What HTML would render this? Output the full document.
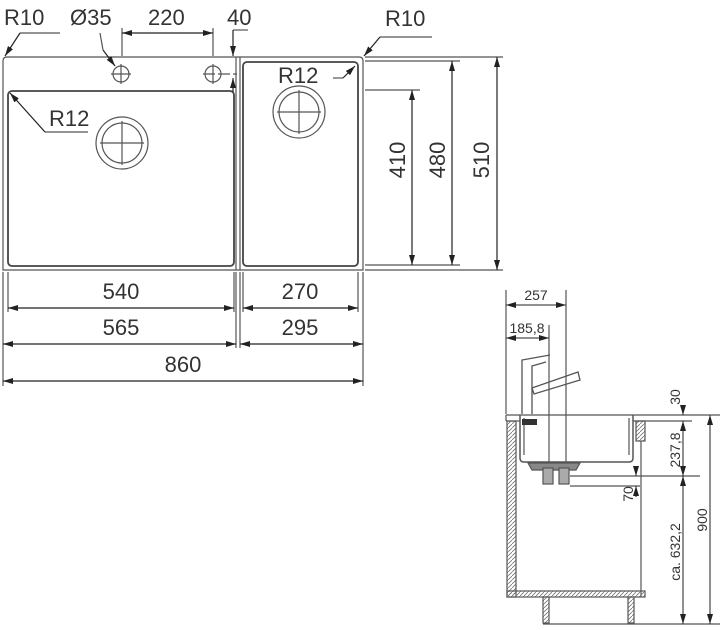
<!DOCTYPE html>
<html><head><meta charset="utf-8"><style>
html,body{margin:0;padding:0;background:#fff;}
svg{display:block}
text{font-family:"Liberation Sans",Arial,sans-serif;fill:#333}
</style></head><body>
<svg width="720" height="630" viewBox="0 0 720 630" xmlns="http://www.w3.org/2000/svg">
<defs>
<marker id="a" viewBox="0 0 10 6" refX="10" refY="3" markerWidth="10" markerHeight="6" orient="auto-start-reverse" markerUnits="userSpaceOnUse"><path d="M0,0L10,3L0,6z" fill="#222"/></marker>
<pattern id="h" width="4" height="4" patternUnits="userSpaceOnUse"><path d="M0,4L4,0" stroke="#777" stroke-width="0.8"/></pattern>
</defs>
<g fill="none" stroke="#555" stroke-width="1.2">
<path d="M3,61 Q3,57 7,57 H359 Q363,57 363,61 V270 H3 Z"/>
<line x1="236" y1="57" x2="236" y2="270"/>
<line x1="240" y1="57" x2="240" y2="270"/>
<rect x="8" y="91" width="226" height="175" rx="4" stroke="#444" stroke-width="1.8"/>
<rect x="243" y="62" width="115" height="204" rx="4" stroke="#444" stroke-width="1.8"/>
<circle cx="121" cy="74" r="8"/><line x1="111" y1="74" x2="131" y2="74"/><line x1="121" y1="64" x2="121" y2="84"/>
<circle cx="213" cy="74" r="8"/><line x1="203" y1="74" x2="237" y2="74" stroke-dasharray="12,3"/><line x1="213" y1="64" x2="213" y2="84"/>
<circle cx="122" cy="143" r="26"/><circle cx="122" cy="143" r="20"/>
<line x1="100" y1="143" x2="144" y2="143"/><line x1="122" y1="121" x2="122" y2="165"/>
<circle cx="299" cy="112" r="26"/><circle cx="299" cy="112" r="20"/>
<line x1="277" y1="112" x2="321" y2="112"/><line x1="299" y1="90" x2="299" y2="134"/>
<line x1="60" y1="33" x2="20" y2="33"/><line x1="20" y1="33" x2="5" y2="56" marker-end="url(#a)" stroke="#222"/>
<line x1="100" y1="33" x2="103" y2="50"/><line x1="103" y1="50" x2="115" y2="66" marker-end="url(#a)" stroke="#222"/>
<line x1="88" y1="132" x2="45" y2="132"/><line x1="45" y1="132" x2="10" y2="93" marker-end="url(#a)" stroke="#222"/>
<line x1="333" y1="78" x2="343" y2="78"/><line x1="343" y1="78" x2="355" y2="66" marker-end="url(#a)" stroke="#222"/>
<line x1="432" y1="37" x2="380" y2="37"/><line x1="380" y1="37" x2="364" y2="56" marker-end="url(#a)" stroke="#222"/>
<line x1="122" y1="28" x2="122" y2="56"/><line x1="213" y1="28" x2="213" y2="56"/>
<line x1="122" y1="33" x2="213" y2="33" stroke="#222" marker-start="url(#a)" marker-end="url(#a)"/>
<line x1="233" y1="30" x2="248" y2="30"/><line x1="233" y1="30" x2="233" y2="56" stroke="#222" marker-end="url(#a)"/>
<line x1="233" y1="92" x2="233" y2="78" stroke="#222" marker-end="url(#a)"/>
<line x1="3" y1="272" x2="3" y2="386"/><line x1="8" y1="272" x2="8" y2="312"/>
<line x1="234" y1="272" x2="234" y2="312"/><line x1="236" y1="272" x2="236" y2="348"/>
<line x1="240" y1="272" x2="240" y2="348"/><line x1="243" y1="272" x2="243" y2="312"/>
<line x1="358" y1="272" x2="358" y2="312"/><line x1="363" y1="272" x2="363" y2="386"/>
<g stroke="#222">
<line x1="8" y1="308" x2="234" y2="308" marker-start="url(#a)" marker-end="url(#a)"/>
<line x1="243" y1="308" x2="358" y2="308" marker-start="url(#a)" marker-end="url(#a)"/>
<line x1="3" y1="344" x2="236" y2="344" marker-start="url(#a)" marker-end="url(#a)"/>
<line x1="240" y1="344" x2="363" y2="344" marker-start="url(#a)" marker-end="url(#a)"/>
<line x1="3" y1="381" x2="363" y2="381" marker-start="url(#a)" marker-end="url(#a)"/>
</g>
<line x1="365" y1="57" x2="503" y2="57"/><line x1="365" y1="61" x2="460" y2="61"/><line x1="365" y1="90" x2="420" y2="90"/>
<line x1="365" y1="265" x2="460" y2="265"/><line x1="365" y1="270" x2="503" y2="270"/>
<g stroke="#222">
<line x1="412" y1="90" x2="412" y2="265" marker-start="url(#a)" marker-end="url(#a)"/>
<line x1="452" y1="61" x2="452" y2="265" marker-start="url(#a)" marker-end="url(#a)"/>
<line x1="497" y1="57" x2="497" y2="270" marker-start="url(#a)" marker-end="url(#a)"/>
</g>
<line x1="506" y1="290" x2="506" y2="414"/><line x1="549" y1="325" x2="549" y2="470"/><line x1="566" y1="290" x2="566" y2="470"/>
<g stroke="#222" stroke-width="1">
<line x1="506" y1="305" x2="566" y2="305" marker-start="url(#a)" marker-end="url(#a)"/>
<line x1="506" y1="338" x2="549" y2="338" marker-start="url(#a)" marker-end="url(#a)"/>
</g>
<path d="M522,414 V360 L550,355 M532,414 V366 L546,362" stroke-width="1.3"/>
<path d="M532,388 L578,372 L580,380 L534,394 Z" stroke-width="1.3"/>
<line x1="506" y1="415" x2="720" y2="415"/>
<line x1="506" y1="421" x2="520" y2="421"/><line x1="633" y1="421" x2="692" y2="421"/>
<line x1="506" y1="415" x2="506" y2="421"/>
<path d="M520,415 V458 Q520,462 524,462 H629 Q633,462 633,458 V415" stroke-width="1.5"/>
<path d="M524,418 V455 M629,418 V455"/>
<rect x="522" y="419" width="15" height="6" fill="#333" stroke="none"/>
<path d="M528,463 H580 L576,470 H532 Z" fill="#888"/>
<rect x="543" y="468" width="10" height="16" fill="#aaa"/><rect x="559" y="468" width="10" height="16" fill="#aaa"/>
<line x1="570" y1="476" x2="700" y2="476"/><line x1="570" y1="486" x2="640" y2="486"/>
<rect x="507" y="421" width="9" height="176" fill="url(#h)"/>
<rect x="636" y="421" width="9" height="20" fill="url(#h)"/>
<line x1="641" y1="441" x2="641" y2="597"/>
<rect x="507" y="591" width="138" height="6" fill="url(#h)"/>
<rect x="543" y="597" width="6" height="26" fill="url(#h)"/>
<rect x="628" y="597" width="6" height="26" fill="url(#h)"/>
<line x1="543" y1="624" x2="720" y2="624"/>
<g stroke="#222" stroke-width="1">
<line x1="636" y1="466" x2="636" y2="476" marker-end="url(#a)"/>
<line x1="636" y1="497" x2="636" y2="486" marker-end="url(#a)"/>
<line x1="683" y1="405" x2="683" y2="415" marker-end="url(#a)"/>
<line x1="683" y1="421" x2="683" y2="476" marker-start="url(#a)" marker-end="url(#a)"/>
<line x1="683" y1="476" x2="683" y2="624" marker-start="url(#a)" marker-end="url(#a)"/>
<line x1="710" y1="415" x2="710" y2="624" marker-start="url(#a)" marker-end="url(#a)"/>
</g>
</g>
<g font-size="22">
<text x="4" y="25">R10</text><text x="70" y="25">Ø35</text><text x="148" y="25">220</text><text x="227" y="25">40</text>
<text x="385" y="26">R10</text>
<text x="49" y="126">R12</text><text x="278" y="83">R12</text>
<text x="121" y="299" text-anchor="middle">540</text><text x="300" y="299" text-anchor="middle">270</text>
<text x="121" y="335" text-anchor="middle">565</text><text x="300" y="335" text-anchor="middle">295</text>
<text x="183" y="372" text-anchor="middle">860</text>
<text transform="translate(405,160) rotate(-90)" text-anchor="middle">410</text>
<text transform="translate(445,160) rotate(-90)" text-anchor="middle">480</text>
<text transform="translate(489,160) rotate(-90)" text-anchor="middle">510</text>
</g>
<g font-size="14">
<text x="536" y="300" text-anchor="middle">257</text>
<text x="527" y="333" text-anchor="middle">185,8</text>
<text transform="translate(680,397) rotate(-90)" text-anchor="middle">30</text>
<text transform="translate(680,450) rotate(-90)" text-anchor="middle">237,8</text>
<text transform="translate(633,494) rotate(-90)" text-anchor="middle">70</text>
<text transform="translate(680,552) rotate(-90)" text-anchor="middle">ca. 632,2</text>
<text transform="translate(707,520) rotate(-90)" text-anchor="middle">900</text>
</g>
</svg>
</body></html>
